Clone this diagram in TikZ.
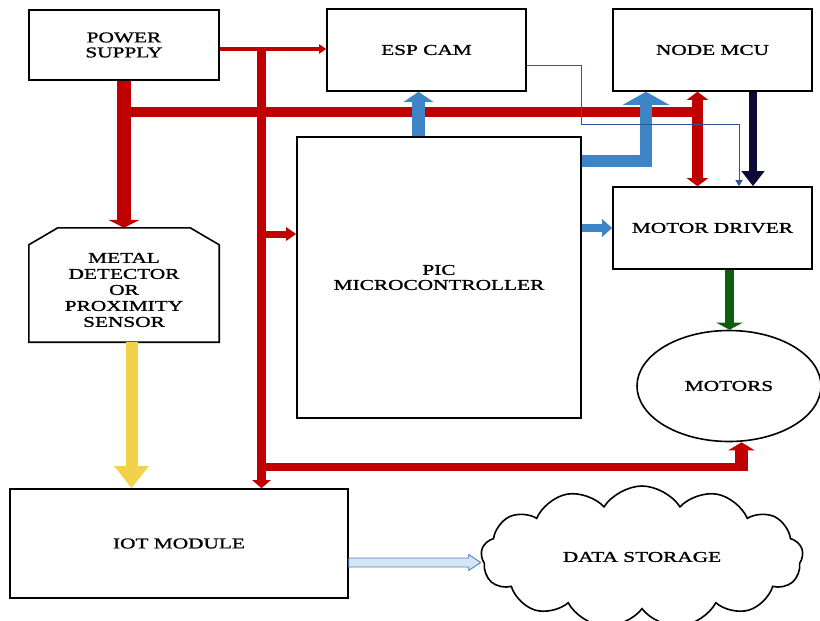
\documentclass[tikz,border=0pt]{standalone}
\usepackage{fontspec}
\setmainfont{Liberation Serif}[FakeStretch=1.42,FakeBold=1.2]
\usetikzlibrary{arrows.meta,shapes.geometric,shapes.symbols,calc}
\definecolor{rd}{HTML}{C00000}
\definecolor{bl}{HTML}{3D85C6}
\definecolor{navyc}{HTML}{0B0B35}
\definecolor{dg}{HTML}{0E5E0E}
\definecolor{yl}{HTML}{F2D24B}
\definecolor{lbf}{HTML}{D4E6F6}
\definecolor{lbo}{HTML}{4A7EBB}
\definecolor{thinb}{HTML}{2F5496}
\begin{document}
\begin{tikzpicture}[x=1pt,y=-1pt,
  txt/.style={font=\fontsize{15}{15}\selectfont,align=center},
  box/.style={draw=black,line width=1.6pt,inner sep=0pt,txt}]
\useasboundingbox (0,0) rectangle (820,621);
% nodes
\node[box,minimum width=190pt,minimum height=70pt] (ps) at (124,45) {POWER\\SUPPLY};
\node[box,minimum width=199pt,minimum height=82pt] (esp) at (426.5,50) {ESP CAM};
\node[box,minimum width=199pt,minimum height=82pt] (mcu) at (712.5,50) {NODE MCU};
\node[box,minimum width=199pt,minimum height=82pt] (md) at (712.5,228) {MOTOR DRIVER};
\node[box,minimum width=284pt,minimum height=281pt] (pic) at (439,277.5) {PIC\\MICROCONTROLLER};
\node[inner sep=0pt,minimum width=190pt,minimum height=114pt] (det) at (124,285) {};
\draw[line width=1.6pt] (det.south west) -- ([yshift=-17pt]det.north west) -- ([xshift=29pt]det.north west)
  -- ([xshift=-29pt]det.north east) -- ([yshift=-17pt]det.north east) -- (det.south east) -- cycle;
\node[txt,font=\fontsize{15}{16}\selectfont] (dettxt) at ([yshift=-5pt]det.center) {METAL\\DETECTOR\\OR\\PROXIMITY\\SENSOR};
\node[box,minimum width=338pt,minimum height=109pt] (iot) at (179,543.5) {IOT MODULE};
\node[draw,ellipse,line width=1.6pt,inner sep=0pt,minimum width=184pt,minimum height=111pt,txt] (mot) at (729,386) {MOTORS};
\node[draw,cloud,cloud puffs=13,cloud puff arc=115,cloud ignores aspect,line width=1.6pt,inner sep=0pt,minimum width=322pt,minimum height=142pt,txt] (cloud) at (642,557) {DATA STORAGE};
% coordinates
\coordinate (busL) at (124,112);
\coordinate (dblx) at (697.5,112);
\coordinate (pwL) at (219,49);
\coordinate (vb) at (261.5,49);
\coordinate (bp) at (261.5,234);
\coordinate (bm) at (261.5,467);
\coordinate (mx) at (741.5,467);
\coordinate (ex) at (418.5,0);
\coordinate (ey) at (0,161);
\coordinate (mxb) at (646,0);
\coordinate (nx) at (753,0);
\coordinate (tY) at (0,65);
\coordinate (tB) at (581,124);
\coordinate (tC) at (739,0);
\coordinate (gx) at (729.5,0);
\coordinate (yx) at (131.5,0);
\coordinate (ly) at (0,562.5);
% red power arrows
\draw[rd,line width=14pt,-{Triangle[width=31pt,length=8pt]}] (ps.south) -- (det.north);
\draw[rd,line width=10pt] (busL) -- (dblx);
\draw[rd,line width=11pt,{Triangle[width=21pt,length=8pt]}-{Triangle[width=21pt,length=8pt]}] (mcu.south -| dblx) -- (md.north -| dblx);
\draw[rd,line width=4pt,-{Triangle[width=9pt,length=7pt]}] (ps.east |- pwL) -- (esp.west |- pwL);
\draw[rd,line width=9pt,-{Triangle[width=18pt,length=8pt]}] (vb) -- (iot.north -| vb);
\draw[rd,line width=7pt,-{Triangle[width=13pt,length=10pt]}] (bp) -- (pic.west |- bp);
\draw[rd,line width=8pt] (bm) -- (mx);
\draw[rd,line width=13pt,-{Triangle[width=26pt,length=8pt]}] ([yshift=-4pt]mx) -- (mot.south -| mx);
% blue arrows
\draw[bl,line width=13pt,-{Triangle[width=29pt,length=10pt]}] (pic.north -| ex) -- (esp.south -| ex);
\draw[bl,line width=12pt,-{Triangle[width=46pt,length=13pt]}] (pic.east |- ey) -| (mcu.south -| mxb);
\draw[bl,line width=8pt,-{Triangle[width=17pt,length=10pt]}] (pic.east |- md.west) -- (md.west);
% navy
\draw[navyc,line width=8pt,-{Triangle[width=22pt,length=15pt]}] (mcu.south -| nx) -- (md.north -| nx);
% thin blue
\draw[thinb,line width=1pt,-{Triangle[width=7pt,length=6pt]}] (esp.east |- tY) -| (tB) -| (md.north -| tC);
% green
\draw[dg,line width=9pt,-{Triangle[width=26pt,length=7pt]}] (md.south -| gx) -- (mot.north -| gx);
% yellow
\draw[yl,line width=12pt,-{Triangle[width=33pt,length=22pt]}] (det.south -| yx) -- (iot.north -| yx);
% light blue
\draw[draw=lbo,fill=lbf,line width=0.8pt] ($(iot.east|-ly)+(0,-4.5)$) -- ($(cloud.west|-ly)+(-12,-4.5)$) -- ($(cloud.west|-ly)+(-12,-8)$)
  -- (cloud.west|-ly) -- ($(cloud.west|-ly)+(-12,8)$) -- ($(cloud.west|-ly)+(-12,4.5)$) -- ($(iot.east|-ly)+(0,4.5)$) -- cycle;
\end{tikzpicture}
\end{document}
